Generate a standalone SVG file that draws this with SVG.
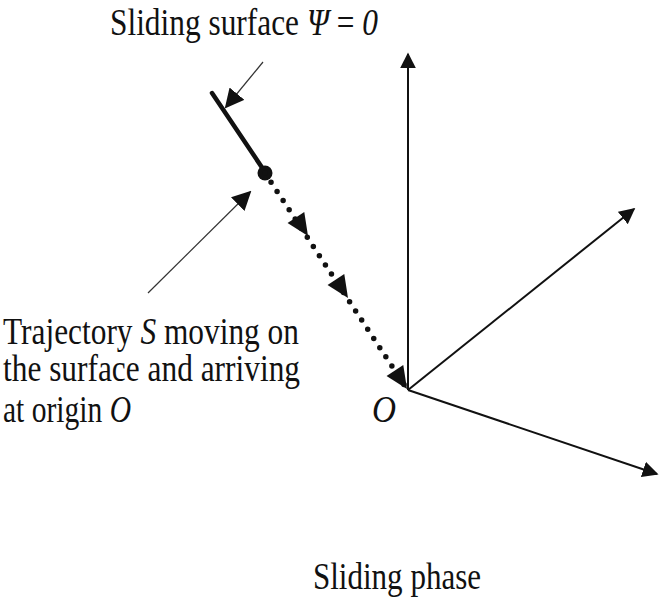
<svg xmlns="http://www.w3.org/2000/svg" width="659" height="603" viewBox="0 0 659 603">
<defs>
<style>
text{font-family:"Liberation Serif","Times New Roman",serif;font-size:38px;fill:#111}
.it{font-style:italic}
.axis{stroke:#111;stroke-width:2;fill:none}
.ptr{stroke:#333;stroke-width:1.2;fill:none}
</style>
<marker id="ah" viewBox="0 0 10 10" refX="9" refY="5" markerWidth="8" markerHeight="8" markerUnits="strokeWidth" orient="auto"><path d="M0,0 L10,5 L0,10 Z" fill="#111"/></marker>
<marker id="ahp" viewBox="0 0 10 10" refX="9" refY="5" markerWidth="16" markerHeight="16" markerUnits="strokeWidth" orient="auto"><path d="M0,0 L10,5 L0,10 Z" fill="#111"/></marker>
<path id="tri" d="M0,0 L-22,-10 L-22,10 Z" fill="#111"/>
</defs>
<rect width="659" height="603" fill="#fff"/>
<g id="axes">
<line class="axis" x1="408" y1="390" x2="408" y2="54" marker-end="url(#ah)"/>
<line class="axis" x1="408" y1="390" x2="634" y2="209" marker-end="url(#ah)"/>
<line class="axis" x1="408" y1="390" x2="657" y2="474" marker-end="url(#ah)"/>
</g>
<g id="surface">
<line x1="212" y1="93" x2="265" y2="172" stroke="#111" stroke-width="4.5" stroke-linecap="round"/>
<circle cx="265" cy="173" r="7.5" fill="#111"/>
</g>
<g id="connectors">
<line x1="265" y1="173" x2="405" y2="386" stroke="#111" stroke-width="5.5" stroke-linecap="round" stroke-dasharray="0 11"/>
<use href="#tri" transform="translate(308,236) rotate(56.7)"/>
<use href="#tri" transform="translate(348,298) rotate(56.7)"/>
<use href="#tri" transform="translate(407,389) rotate(56.7)"/>
<line class="ptr" x1="263" y1="62" x2="226" y2="107" marker-end="url(#ahp)"/>
<line class="ptr" x1="148" y1="293" x2="250" y2="192" marker-end="url(#ahp)"/>
</g>
<g id="labels">
<text x="110" y="35" textLength="268" lengthAdjust="spacingAndGlyphs">Sliding surface <tspan class="it">Ψ</tspan> = <tspan class="it">0</tspan></text>
<text x="3" y="344" textLength="296" lengthAdjust="spacingAndGlyphs">Trajectory <tspan class="it">S</tspan> moving on</text>
<text x="3" y="381" textLength="297" lengthAdjust="spacingAndGlyphs">the surface and arriving</text>
<text x="3" y="422" textLength="128" lengthAdjust="spacingAndGlyphs">at origin <tspan class="it">O</tspan></text>
<text class="it" x="372" y="422" textLength="24" lengthAdjust="spacingAndGlyphs">O</text>
<text x="313" y="589" textLength="168" lengthAdjust="spacingAndGlyphs">Sliding phase</text>
</g>
</svg>
